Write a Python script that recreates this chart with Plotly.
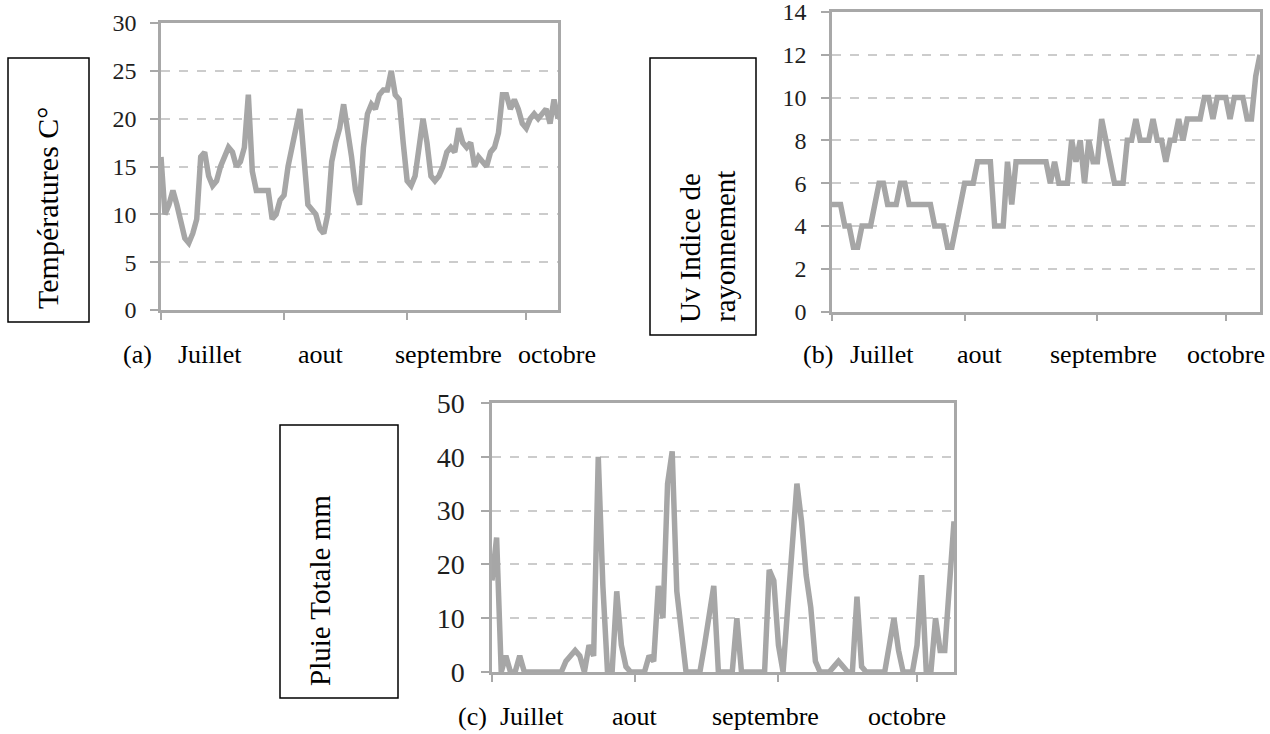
import plotly.graph_objects as go

W, H = 1270, 734

# ---------------- data (day index from 1 July) ----------------
month_ticks = [0, 31, 62, 92]          # 1 Jul, 1 Aug, 1 Sep, 1 Oct
month_names = ["Juillet", "aout", "septembre", "octobre"]

days = list(range(101))

temperature = [16, 10, 11, 12.5, 11, 9.5, 7.5, 7, 8, 9.5,
               16, 16.5, 14, 13, 13.5, 15, 16, 17, 16.5, 15,
               15.5, 17, 22.5, 14.5, 12.5, 12.5, 12.5, 12.5, 9.5, 10,
               11.5, 12, 15, 17, 18.5, 21, 16, 11, 10.5, 10,
               8.5, 8, 10, 15.5, 17.5, 19, 21.5, 19, 16, 12.5,
               11, 17, 20.5, 21.5, 21, 22.5, 23, 23, 25, 22.5,
               22, 17.5, 13.5, 13, 14, 17, 20, 17.5, 14, 13.5,
               14, 15, 16.5, 17, 16.5, 19, 17.5, 17, 17.5, 15,
               16, 15.5, 15, 16.5, 17, 18.5, 22.5, 22.5, 21, 22,
               21, 19.5, 19, 20, 20.5, 20, 20.5, 21, 19.5, 22,
               20]

uv_index = [5, 5, 5, 4, 4, 3, 3, 4, 4, 4,
            5, 6, 6, 5, 5, 5, 6, 6, 5, 5,
            5, 5, 5, 5, 4, 4, 4, 3, 3, 4,
            5, 6, 6, 6, 7, 7, 7, 7, 4, 4,
            4, 7, 5, 7, 7, 7, 7, 7, 7, 7,
            7, 6, 7, 6, 6, 6, 8, 7, 8, 6,
            8, 7, 7, 9, 8, 7, 6, 6, 6, 8,
            8, 9, 8, 8, 8, 9, 8, 8, 7, 8,
            8, 9, 8, 9, 9, 9, 9, 10, 10, 9,
            10, 10, 10, 9, 10, 10, 10, 9, 9, 11,
            12]

rain = [17, 25, 0, 3, 0, 0, 3, 0, 0, 0,
        0, 0, 0, 0, 0, 0, 2, 3, 4, 3,
        0, 5, 3, 40, 16, 0, 0, 15, 5, 1,
        0, 0, 0, 0, 3, 2, 16, 10, 35, 41,
        15, 8, 0, 0, 0, 0, 5, 10, 16, 0,
        0, 0, 0, 10, 0, 0, 0, 0, 0, 0,
        19, 17, 5, 0, 12, 25, 35, 28, 18, 12,
        2, 0, 0, 0, 1, 2, 1, 0, 0, 14,
        1, 0, 0, 0, 0, 0, 5, 10, 4, 0,
        0, 0, 5, 18, 0, 0, 10, 4, 4, 15,
        28]

panel_letters = ["(a)", "(b)", "(c)"]
y_titles = ["Températures C°", "Uv Indice de", "rayonnement", "Pluie Totale mm"]

# ---------------- helpers ----------------
def px_x(p):
    return p / W

def px_y(p):
    return 1 - p / H

LINE_COLOR = "#a6a6a6"
AXIS_COLOR = "#a8a8a8"
GRID_COLOR = "#cccccc"
SERIF = "Liberation Serif, Times New Roman, serif"

fig = go.Figure()
fig.add_trace(go.Scatter(x=days, y=temperature, mode="lines",
                         line=dict(color=LINE_COLOR, width=5.5), xaxis="x", yaxis="y"))
fig.add_trace(go.Scatter(x=days, y=uv_index, mode="lines",
                         line=dict(color=LINE_COLOR, width=5.5), xaxis="x2", yaxis="y2"))
fig.add_trace(go.Scatter(x=days, y=rain, mode="lines",
                         line=dict(color=LINE_COLOR, width=5.5), xaxis="x3", yaxis="y3"))

def xaxis(dom, anchor):
    return dict(domain=dom, anchor=anchor, range=[0, 100], tickvals=month_ticks,
                showticklabels=False, ticks="outside", ticklen=7, tickwidth=2,
                tickcolor=AXIS_COLOR, showline=True, linecolor=AXIS_COLOR, linewidth=2.5,
                mirror=True, showgrid=False, zeroline=False, fixedrange=True,
                automargin=False)

def yaxis(dom, anchor, rng, dt, fsize, standoff):
    return dict(domain=dom, anchor=anchor, range=rng, dtick=dt, tick0=0,
                ticks="outside", ticklen=8, tickwidth=2, tickcolor=AXIS_COLOR,
                showline=True, linecolor=AXIS_COLOR, linewidth=2.5, mirror=True,
                showgrid=True, gridcolor=GRID_COLOR, griddash="dash", gridwidth=1.5,
                zeroline=False, ticklabelstandoff=standoff, automargin=False,
                ticklabeloverflow="allow",
                tickfont=dict(family=SERIF, size=fsize, color="#1e1e1e"), fixedrange=True)

fig.update_layout(
    width=W, height=H, margin=dict(l=0, r=0, t=0, b=0, autoexpand=False),
    paper_bgcolor="white", plot_bgcolor="white", showlegend=False,
    xaxis=xaxis([px_x(161), px_x(558)], "y"),
    yaxis=yaxis([px_y(310), px_y(23)], "x", [0, 30], 5, 24, 9),
    xaxis2=xaxis([px_x(832), px_x(1260)], "y2"),
    yaxis2=yaxis([px_y(311.5), px_y(12)], "x2", [0, 14], 2, 24, 10),
    xaxis3=xaxis([px_x(492), px_x(954)], "y3"),
    yaxis3=yaxis([px_y(672), px_y(403)], "x3", [0, 50], 10, 28, 11),
)

# boxes around the y titles
boxes = [(8, 58, 89, 322), (650, 58, 756, 335), (280, 425, 398, 698)]
for x0, y0, x1, y1 in boxes:
    fig.add_shape(type="rect", xref="paper", yref="paper",
                  x0=px_x(x0), x1=px_x(x1), y0=px_y(y1), y1=px_y(y0),
                  line=dict(color="black", width=1.5), fillcolor="rgba(0,0,0,0)")

def rot_label(text, cx, cy, size):
    fig.add_annotation(text=text, xref="paper", yref="paper", x=px_x(cx), y=px_y(cy),
                       xanchor="center", yanchor="middle", textangle=-90, showarrow=False,
                       font=dict(family=SERIF, size=size, color="black"))

rot_label(y_titles[0], 48, 208, 30)
rot_label(y_titles[1], 690, 248, 29)
rot_label(y_titles[2], 725, 247, 29)
rot_label(y_titles[3], 320, 591, 29)

# bottom month rows
rows = [
    (panel_letters[0], 354, [123, 178, 298, 395, 518]),
    (panel_letters[1], 354, [803, 850, 957, 1050, 1187]),
    (panel_letters[2], 716, [458, 500, 612, 712, 868]),
]
for letter, cy, xs in rows:
    words = [letter] + month_names
    for word, x0 in zip(words, xs):
        fig.add_annotation(text=word, xref="paper", yref="paper", x=px_x(x0 - 2), y=px_y(cy),
                           xanchor="left", yanchor="middle", showarrow=False,
                           font=dict(family=SERIF, size=26, color="black"))

fig.write_html("out.html")
